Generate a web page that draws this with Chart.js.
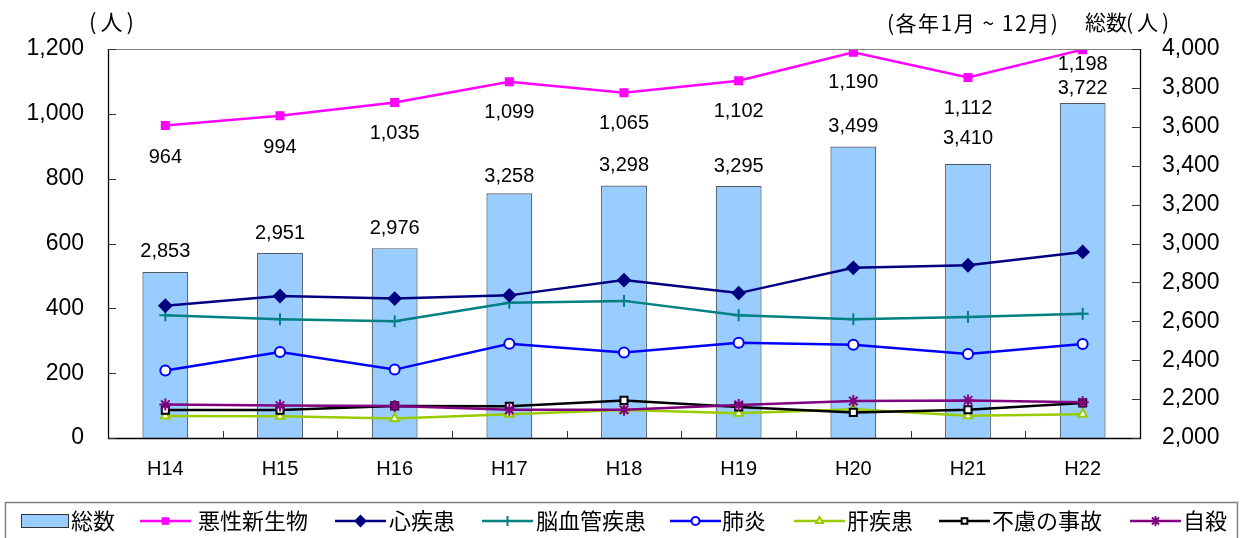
<!DOCTYPE html>
<html>
<head>
<meta charset="utf-8">
<script src="https://cdn.jsdelivr.net/npm/chart.js@4/dist/chart.umd.min.js"></script>
<style>
html,body{margin:0;padding:0;background:#fff;}
#wrap{width:1241px;height:538px;position:relative;}
</style>
</head>
<body>
<div id="wrap"><canvas id="c" width="1241" height="538"></canvas></div>
<script>
// ---- data ----
const categories = ['H14','H15','H16','H17','H18','H19','H20','H21','H22'];
const totalDeaths = [2853, 2951, 2976, 3258, 3298, 3295, 3499, 3410, 3722];   // 総数 (right axis)
const cancer      = [964, 994, 1035, 1099, 1065, 1102, 1190, 1112, 1198];     // 悪性新生物
const heart       = [408, 438, 430, 440, 487, 447, 525, 533, 574];            // 心疾患
const stroke      = [379, 366, 360, 417, 423, 379, 366, 373, 383];            // 脳血管疾患
const pneumonia   = [208, 265, 211, 291, 264, 294, 288, 259, 290];            // 肺炎
const liver       = [68, 67, 60, 73, 86, 76, 89, 69, 73];                     // 肝疾患
const accident    = [86, 86, 99, 98, 116, 96, 79, 87, 108];                   // 不慮の事故
const suicide     = [103, 100, 99, 87, 87, 102, 114, 116, 110];               // 自殺
const leftTicks   = [0, 200, 400, 600, 800, 1000, 1200];
const rightTicks  = [2000, 2200, 2400, 2600, 2800, 3000, 3200, 3400, 3600, 3800, 4000];

const NUM_FONT = "'Liberation Sans', Arial, sans-serif";
const JP_FONT = "'Noto Sans CJK JP', 'Noto Sans', sans-serif";

function lineDs(label, data, color, style, fill, radius, order) {
  return {
    type: 'line', label, data, yAxisID: 'y',
    borderColor: color, backgroundColor: fill,
    borderWidth: 2.5, tension: 0,
    pointStyle: style, pointRadius: radius, pointHoverRadius: radius,
    pointBorderColor: color, pointBackgroundColor: fill, pointBorderWidth: 2,
    order
  };
}

const datasets = [
  { type: 'bar', label: '総数', data: totalDeaths, yAxisID: 'y1',
    backgroundColor: '#99CCFF', borderColor: '#4d5a66', borderWidth: 1.2,
    categoryPercentage: 1.0, barPercentage: 0.4, order: 20 },
  lineDs('悪性新生物', cancer, '#FF00FF', 'rect', '#FF00FF', 5, 1),
  lineDs('心疾患', heart, '#000080', 'rectRot', '#000080', 6, 2),
  lineDs('脳血管疾患', stroke, '#008080', 'cross', '#008080', 6, 3),
  lineDs('肺炎', pneumonia, '#0000FF', 'circle', '#FFFFFF', 5, 4),
  lineDs('肝疾患', liver, '#99CC00', 'triangle', '#FFFFFF', 5, 7),
  lineDs('不慮の事故', accident, '#000000', 'rect', '#FFFFFF', 5, 6),
  lineDs('自殺', suicide, '#800080', 'star', '#800080', 6, 5)
];

const fmt = v => v.toLocaleString('en-US');

// Frame, inward tick marks, labels, legend
const decor = {
  id: 'decor',
  afterDatasetsDraw(chart) {
    const ctx = chart.ctx;
    const a = chart.chartArea;
    const x = chart.scales.x, y = chart.scales.y, y1 = chart.scales.y1;
    ctx.save();
    // frame
    ctx.lineWidth = 1;
    ctx.strokeStyle = '#808080';
    ctx.beginPath(); ctx.moveTo(a.left, a.top + 0.5); ctx.lineTo(a.right, a.top + 0.5); ctx.stroke();
    ctx.strokeStyle = '#000';
    ctx.lineWidth = 1.3;
    ctx.beginPath();
    ctx.moveTo(a.left + 0.5, a.top); ctx.lineTo(a.left + 0.5, a.bottom + 0.5);
    ctx.lineTo(a.right + 0.5, a.bottom + 0.5); ctx.lineTo(a.right + 0.5, a.top);
    ctx.stroke();
    // inward ticks
    ctx.lineWidth = 1;
    ctx.strokeStyle = '#333';
    y.ticks.forEach((t, i) => {
      const py = Math.round(y.getPixelForTick(i)) + 0.5;
      ctx.beginPath(); ctx.moveTo(a.left, py); ctx.lineTo(a.left + 8, py); ctx.stroke();
    });
    y1.ticks.forEach((t, i) => {
      const py = Math.round(y1.getPixelForTick(i)) + 0.5;
      ctx.beginPath(); ctx.moveTo(a.right - 8, py); ctx.lineTo(a.right, py); ctx.stroke();
    });
    for (let i = 1; i < categories.length; i++) {
      const px = Math.round((x.getPixelForValue(i - 1) + x.getPixelForValue(i)) / 2) + 0.5;
      ctx.beginPath(); ctx.moveTo(px, a.bottom); ctx.lineTo(px, a.bottom - 7); ctx.stroke();
    }
    // data labels
    ctx.fillStyle = '#000';
    ctx.font = '20px ' + NUM_FONT;
    ctx.textAlign = 'center';
    ctx.textBaseline = 'middle';
    const barMeta = chart.getDatasetMeta(0);
    const barOff = [21, 20, 20, 17, 20, 20, 20, 25, 15];
    barMeta.data.forEach((el, i) => {
      ctx.fillText(fmt(totalDeaths[i]), el.x, el.y - barOff[i]);
    });
    const canMeta = chart.getDatasetMeta(1);
    const canOff = [32, 32, 31, 31, 31, 31, 30, 31, 15];
    canMeta.data.forEach((el, i) => {
      ctx.fillText(fmt(cancer[i]), el.x, el.y + canOff[i]);
    });
    // unit labels
    ctx.textAlign = 'left';
    ctx.font = '22px ' + JP_FONT;
    ctx.letterSpacing = '4px';
    ctx.fillText('(人)', 89, 22);
    ctx.font = '21px ' + JP_FONT;
    ctx.letterSpacing = '1.5px';
    ctx.fillText('(各年1月 ~ 12月)', 887, 23);
    ctx.font = '21px ' + JP_FONT;
    ctx.letterSpacing = '0px';
    ctx.fillText('総数', 1085, 22);
    ctx.letterSpacing = '4px';
    ctx.fillText('(人)', 1126, 22);
    ctx.letterSpacing = '0px';
    // legend
    ctx.strokeStyle = '#808080';
    ctx.lineWidth = 1.5;
    ctx.strokeRect(5.5, 502.5, 1232, 40);
    const ly = 521;
    ctx.font = '22px ' + JP_FONT;
    ctx.textBaseline = 'middle';
    // bar swatch
    ctx.fillStyle = '#99CCFF';
    ctx.fillRect(21, 514, 47, 13);
    ctx.strokeStyle = '#333';
    ctx.lineWidth = 1;
    ctx.strokeRect(21.5, 514.5, 47, 13);
    ctx.fillStyle = '#000';
    ctx.fillText('総数', 71, ly);
    const items = [
      {ds: 1, x0: 140, tx: 198},
      {ds: 2, x0: 335, tx: 389},
      {ds: 3, x0: 482, tx: 536},
      {ds: 4, x0: 670, tx: 722},
      {ds: 5, x0: 794, tx: 847},
      {ds: 6, x0: 939, tx: 992},
      {ds: 7, x0: 1130, tx: 1183}
    ];
    items.forEach(it => {
      const d = datasets[it.ds];
      ctx.strokeStyle = d.borderColor;
      ctx.lineWidth = 2.5;
      ctx.beginPath(); ctx.moveTo(it.x0, ly); ctx.lineTo(it.x0 + 51, ly); ctx.stroke();
      ctx.fillStyle = d.pointBackgroundColor;
      ctx.lineWidth = 2;
      if (Chart.helpers && Chart.helpers.drawPoint) {
        Chart.helpers.drawPoint(ctx, {pointStyle: d.pointStyle, radius: Math.max(4, d.pointRadius - 1), rotation: 0, borderWidth: 2}, it.x0 + 25.5, ly);
      }
      ctx.fillStyle = '#000';
      ctx.fillText(d.label, it.tx, ly);
    });
    ctx.restore();
  }
};

new Chart(document.getElementById('c'), {
  type: 'bar',
  data: { labels: categories, datasets },
  options: {
    responsive: false,
    animation: false,
    devicePixelRatio: 1,
    layout: { padding: { top: 49, bottom: 56, left: 0, right: 0 } },
    plugins: { legend: { display: false }, tooltip: { enabled: false } },
    scales: {
      x: {
        offset: true,
        grid: { display: false, drawTicks: false },
        border: { display: false },
        ticks: { color: '#000', font: { family: NUM_FONT, size: 20 }, padding: 19, maxRotation: 0 },
        afterFit: s => { s.height = 44; }
      },
      y: {
        position: 'left', min: 0, max: 1200,
        afterBuildTicks: s => { s.ticks = leftTicks.map(v => ({ value: v })); },
        grid: { display: false, drawTicks: false },
        border: { display: false },
        ticks: { color: '#000', font: { family: NUM_FONT, size: 23 }, padding: 24, callback: v => fmt(v) },
        afterFit: s => { s.width = 108; }
      },
      y1: {
        position: 'right', min: 2000, max: 4000,
        afterBuildTicks: s => { s.ticks = rightTicks.map(v => ({ value: v })); },
        grid: { display: false, drawTicks: false },
        border: { display: false },
        ticks: { color: '#000', font: { family: NUM_FONT, size: 23 }, padding: 22, callback: v => fmt(v) },
        afterFit: s => { s.width = 101; }
      }
    }
  },
  plugins: [decor]
});
</script>
</body>
</html>
